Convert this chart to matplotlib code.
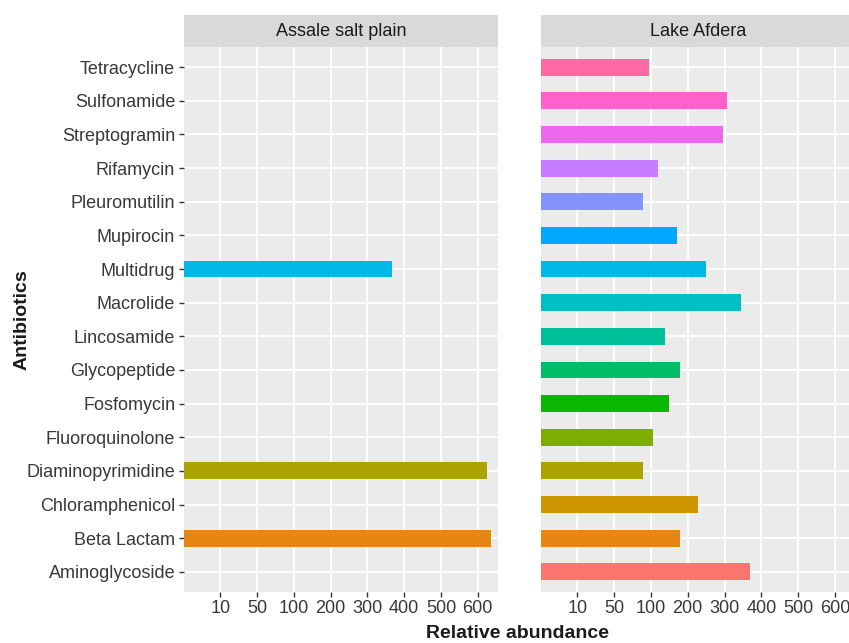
import numpy as np
import matplotlib
matplotlib.use("Agg")
import matplotlib.pyplot as plt
from matplotlib.patches import Rectangle

plt.rcParams["font.family"] = ["Liberation Sans", "DejaVu Sans"]

# Antibiotic classes, bottom to top
antibiotics = ["Aminoglycoside", "Beta Lactam", "Chloramphenicol", "Diaminopyrimidine",
               "Fluoroquinolone", "Fosfomycin", "Glycopeptide", "Lincosamide",
               "Macrolide", "Multidrug", "Mupirocin", "Pleuromutilin", "Rifamycin",
               "Streptogramin", "Sulfonamide", "Tetracycline"]

sites = ["Assale salt plain", "Lake Afdera"]

# Relative abundance per class (NaN = not detected)
assale = [np.nan, 636, np.nan, 625, np.nan, np.nan, np.nan, np.nan,
          np.nan, 366, np.nan, np.nan, np.nan, np.nan, np.nan, np.nan]
afdera = [369, 179, 228, 89, 105, 150, 179, 138,
          346, 249, 170, 89, 118, 297, 307, 98]

# Axis breaks, drawn at equal spacing
tick_values = [10, 50, 100, 200, 300, 400, 500, 600]


# Piecewise-linear axis: 0 at the origin, each break one unit further along
KNOTS = np.array([0] + tick_values, dtype=float)
POS = np.arange(len(KNOTS), dtype=float)


def fwd(v):
    v = np.asarray(v, dtype=float)
    out = np.interp(v, KNOTS, POS)
    out = np.where(v > KNOTS[-1], POS[-1] + (v - KNOTS[-1]) / 100.0, out)
    out = np.where(v < 0, v / 10.0, out)
    return out


def inv(p):
    p = np.asarray(p, dtype=float)
    out = np.interp(p, POS, KNOTS)
    out = np.where(p > POS[-1], KNOTS[-1] + (p - POS[-1]) * 100.0, out)
    out = np.where(p < 0, p * 10.0, out)
    return out


def hcl_hex(h, c=100.0, l=65.0):
    """Polar LUV (HCL) to sRGB hex, D65 white."""
    xn, yn, zn = 95.047, 100.0, 108.883
    u = c * np.cos(np.radians(h))
    v = c * np.sin(np.radians(h))
    y = yn * (((l + 16) / 116) ** 3 if l > 8 else l / 903.3)
    t = xn + 15 * yn + 3 * zn
    un = 4 * xn / t
    vn = 9 * yn / t
    up = u / (13 * l) + un
    vp = v / (13 * l) + vn
    x = 9.0 * y * up / (4 * vp)
    z = -x / 3 - 5 * y + 3 * y / vp
    x, y, z = x / 100, y / 100, z / 100
    r = 3.240479 * x - 1.537150 * y - 0.498535 * z
    g = -0.969256 * x + 1.875992 * y + 0.041556 * z
    b = 0.055648 * x - 0.204043 * y + 1.057311 * z

    def gam(ch):
        ch = 12.92 * ch if ch <= 0.0031308 else 1.055 * ch ** (1 / 2.4) - 0.055
        return min(max(ch, 0.0), 1.0)

    return "#{:02X}{:02X}{:02X}".format(*(int(round(gam(k) * 255)) for k in (r, g, b)))


n = len(antibiotics)
hues = np.linspace(15, 375, n + 1)[:n]
colors = [hcl_hex(h) for h in hues]

W, H = 849, 643
fig = plt.figure(figsize=(W / 100, H / 100), dpi=100)
fig.patch.set_facecolor("white")

panel_bottom = 1 - 592 / H
panel_height = (592 - 47) / H
panel_width = (498 - 183.5) / W
lefts = [183.5 / W, 540.6 / W]

ypos = np.arange(n)
text_col = "#383838"

for i, (site, vals) in enumerate(zip(sites, [assale, afdera])):
    ax = fig.add_axes([lefts[i], panel_bottom, panel_width, panel_height])
    ax.set_xscale("function", functions=(fwd, inv))
    ax.set_facecolor("#EBEBEB")
    vals = np.asarray(vals, dtype=float)
    for k in range(n):
        if np.isfinite(vals[k]):
            ax.barh(ypos[k], vals[k], height=0.5, color=colors[k], zorder=3)
    ax.set_xlim(0, 655)
    ax.set_ylim(-0.6, n - 1 + 0.6)
    ax.set_xticks(tick_values)
    ax.set_xticklabels([str(t) for t in tick_values])
    ax.xaxis.set_minor_locator(matplotlib.ticker.NullLocator())
    ax.set_yticks(ypos)
    if i == 0:
        ax.set_yticklabels(antibiotics)
    else:
        ax.set_yticklabels([])
        ax.tick_params(axis="y", length=0)
    ax.grid(True, color="white", linewidth=1.4, zorder=0)
    ax.set_axisbelow(True)
    for s in ax.spines.values():
        s.set_visible(False)
    ax.tick_params(axis="both", colors="#333333", labelcolor=text_col,
                   labelsize=13, length=3.5, width=1.0, pad=2.5)
    if i == 1:
        ax.tick_params(axis="y", length=0)
    # facet strip
    strip_h = 32 / (592 - 47)
    ax.add_patch(Rectangle((0, 1), 1, strip_h, transform=ax.transAxes,
                           facecolor="#D9D9D9", edgecolor="none", clip_on=False))
    ax.text(0.5, 1 + strip_h / 2, site, transform=ax.transAxes, ha="center",
            va="center", fontsize=13, color="#1A1A1A")

fig.text(518 / W, 1 - 634 / H, "Relative abundance", ha="center", va="center",
         fontsize=14, fontweight="bold", color="#1A1A1A")
fig.text(22 / W, 1 - 320 / H, "Antibiotics", ha="center", va="center",
         rotation=90, fontsize=14, fontweight="bold", color="#1A1A1A")

fig.savefig("out.png", dpi=100, facecolor="white")
